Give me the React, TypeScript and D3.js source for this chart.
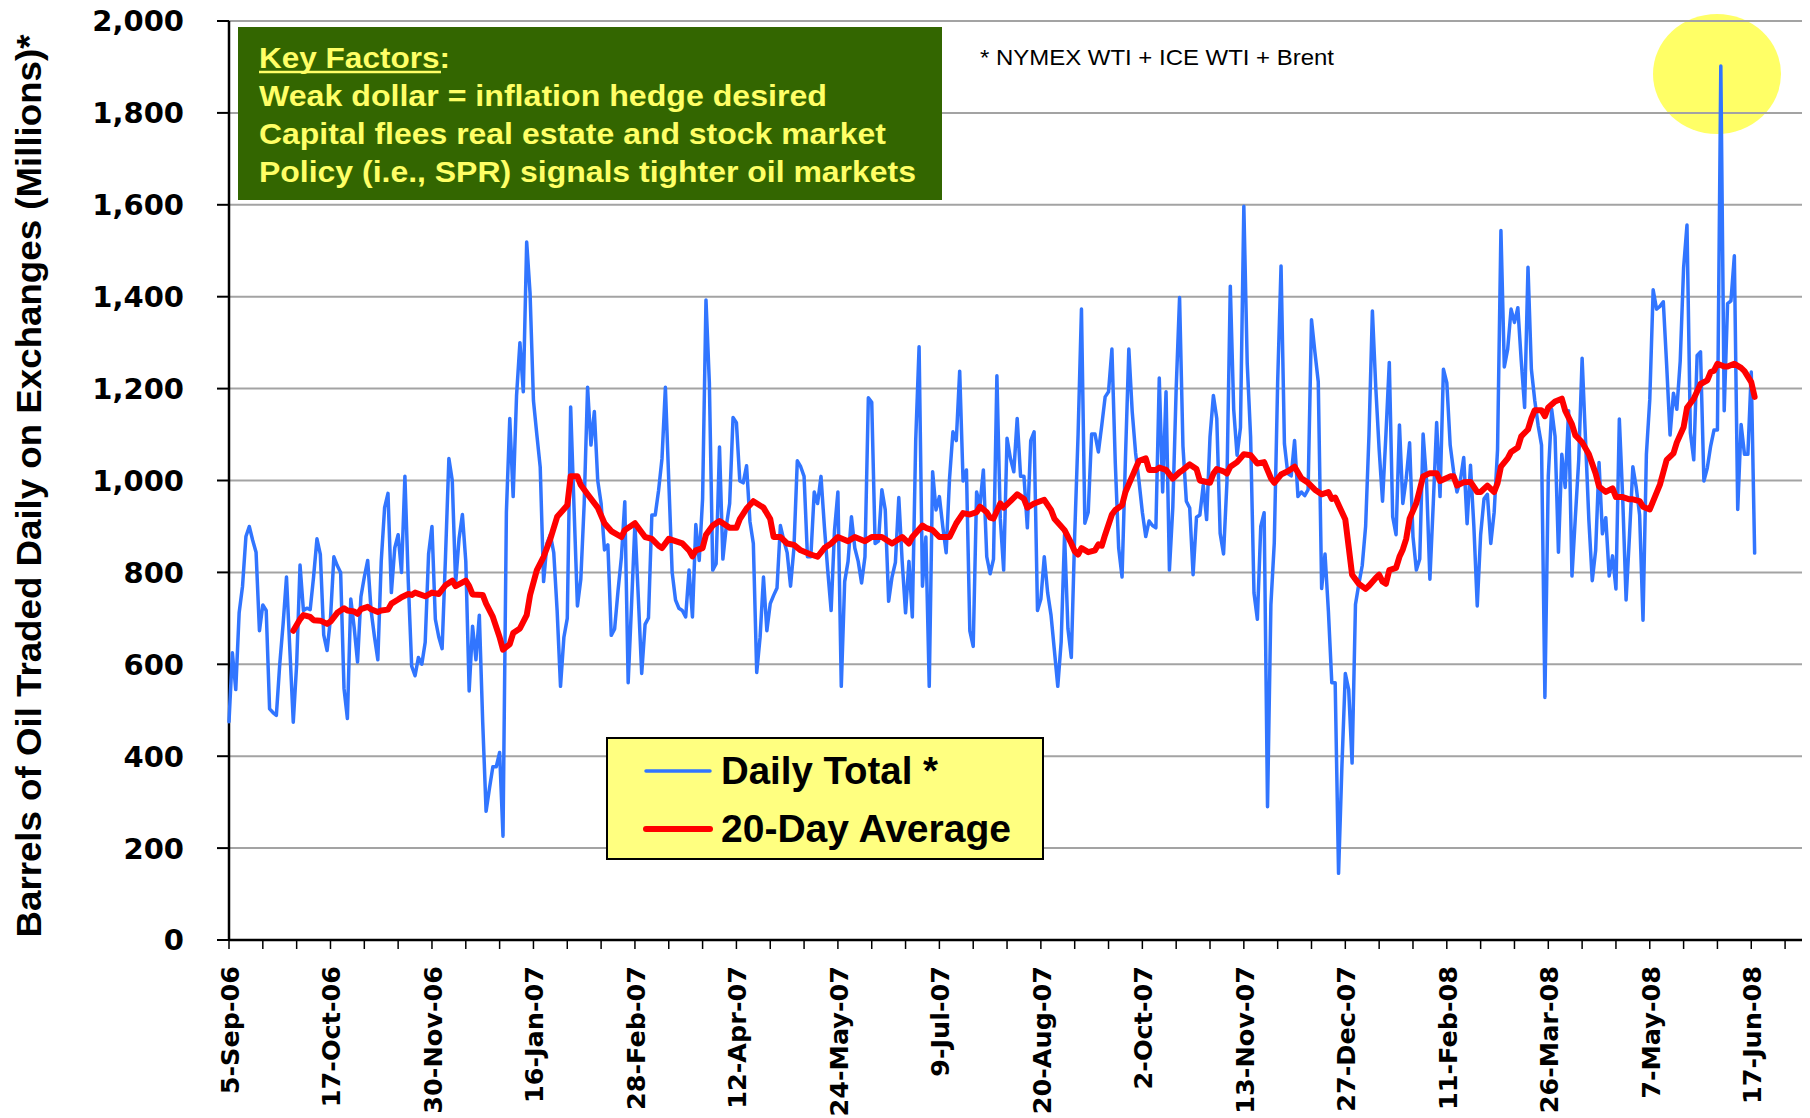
import React from 'react';
import * as d3 from 'd3';

// Daily total, one value per trading day starting 5-Sep-06 (millions of barrels)
const dailyTotal: number[] = [
  475, 625, 545, 712, 770, 878, 900, 870, 844, 673,
  729, 717, 503, 495, 489, 600, 688, 790, 630, 474,
  600, 816, 717, 722, 719, 790, 873, 839, 664, 630,
  700, 834, 815, 800, 547, 482, 742, 680, 605, 747,
  790, 826, 717, 660, 610, 824, 941, 972, 756, 853,
  882, 800, 1009, 780, 596, 575, 615, 600, 648, 840,
  900, 698, 660, 634, 834, 1048, 1000, 776, 873, 926,
  824, 542, 683, 610, 707, 474, 280, 330, 377, 377,
  408, 226, 931, 1135, 965, 1184, 1300, 1193, 1519, 1407,
  1174, 1100, 1029, 780, 863, 882, 843, 717, 552, 659,
  700, 1160, 940, 727, 785, 950, 1203, 1077, 1150, 1000,
  950, 849, 860, 663, 677, 760, 833, 954, 560, 730,
  906, 746, 580, 687, 701, 925, 925, 979, 1048, 1203,
  1000, 800, 740, 722, 717, 703, 805, 703, 904, 826,
  960, 1393, 1213, 805, 819, 1073, 829, 900, 950, 1137,
  1126, 999, 995, 1032, 911, 863, 582, 659, 790, 673,
  732, 750, 766, 902, 870, 843, 770, 853, 1043, 1030,
  1009, 834, 834, 975, 950, 1009, 900, 804, 717, 892,
  975, 552, 780, 824, 921, 853, 824, 777, 834, 1180,
  1170, 863, 868, 980, 936, 737, 790, 822, 963, 824,
  712, 824, 703, 1087, 1291, 770, 877, 552, 1019, 936,
  965, 900, 843, 1004, 1106, 1087, 1238, 999, 1023, 673,
  639, 975, 946, 1023, 834, 797, 829, 1228, 917, 805,
  1092, 1048, 1019, 1135, 1009, 1009, 897, 1087, 1106, 717,
  742, 834, 756, 707, 630, 552, 649, 882, 678, 615,
  882, 1100, 1373, 907, 931, 1101, 1101, 1062, 1120, 1182,
  1193, 1286, 1038, 853, 790, 1048, 1286, 1150, 1060, 999,
  931, 878, 912, 902, 897, 1223, 975, 1193, 805, 941,
  1200, 1398, 1075, 955, 940, 795, 920, 925, 990, 915,
  1095, 1185, 1135, 885, 840, 995, 1423, 1155, 1055, 1115,
  1597, 1255, 1095, 755, 698, 900, 930, 290, 730, 865,
  1215, 1467, 1080, 1015, 1010, 1087, 965, 975, 967, 980,
  1350, 1280, 1215, 765, 840, 715, 560, 560, 145, 380,
  580, 545, 385, 730, 775, 815, 900, 1100, 1369, 1203,
  1067, 955, 1100, 1257, 921, 882, 1121, 950, 1004, 1082,
  878, 805, 829, 1101, 1000, 785, 950, 1126, 965, 1242,
  1213, 1077, 1020, 975, 1000, 1050, 906, 1033, 900, 727,
  882, 960, 970, 863, 931, 1067, 1544, 1247, 1286, 1373,
  1344, 1376, 1261, 1159, 1464, 1242, 1174, 1120, 1077, 528,
  1009, 1155, 1096, 844, 1057, 985, 1152, 792, 920, 1045,
  1266, 1090, 913, 782, 848, 1039, 884, 919, 792, 836,
  764, 1134, 961, 740, 880, 1030, 985, 925, 696, 1057,
  1176, 1415, 1373, 1379, 1389, 1250, 1099, 1190, 1155, 1260,
  1463, 1556, 1104, 1045, 1272, 1280, 999, 1027, 1075, 1110,
  1110, 1902, 1152, 1385, 1391, 1489, 937, 1122, 1057, 1057,
  1236, 842,
];

// 20-day average: trading-day index and value
const avgDay: number[] = [
  19, 21, 22, 24, 25, 27, 29, 30, 32, 34, 35, 37, 38, 39, 41, 42, 44, 45, 47, 48,
  50, 51, 53, 54, 55, 58, 60, 62, 64, 66, 67, 70, 71, 72, 75, 76, 78, 80, 81, 83,
  84, 86, 88, 89, 91, 93, 95, 97, 100, 101, 103, 104, 106, 109, 111, 113, 116, 117, 120, 123,
  125, 127, 128, 130, 132, 134, 136, 137, 138, 140, 141, 143, 145, 148, 150, 151, 153, 155, 158, 160,
  161, 163, 165, 167, 169, 172, 174, 176, 178, 180, 183, 185, 188, 190, 193, 196, 199, 201, 202, 205,
  206, 208, 210, 213, 215, 217, 219, 221, 222, 224, 225, 226, 228, 229, 231, 233, 235, 236, 238, 241,
  243, 244, 247, 249, 250, 251, 252, 254, 256, 257, 258, 259, 261, 262, 264, 265, 267, 269, 271, 272,
  274, 275, 277, 279, 281, 282, 284, 286, 287, 290, 291, 292, 294, 295, 296, 298, 300, 302, 304, 306,
  308, 309, 311, 313, 315, 317, 319, 321, 323, 325, 326, 327, 330, 331, 332, 334, 336, 337, 339, 340,
  341, 342, 343, 345, 346, 347, 348, 349, 351, 352, 353, 355, 357, 358, 361, 362, 363, 365, 367, 369,
  370, 372, 374, 375, 376, 378, 379, 381, 382, 384, 385, 386, 388, 389, 390, 392, 394, 395, 397, 398,
  400, 402, 404, 405, 407, 409, 410, 412, 414, 415, 417, 418, 420, 421, 423, 424, 425, 427, 428, 430,
  431, 433, 435, 437, 438, 439, 440, 442, 443, 445, 447, 448, 449, 450, 451,
];
const avgValue: number[] = [
  673, 698, 707, 703, 696, 695, 688, 693, 712, 722, 717, 715, 710, 720, 725, 720, 714, 717, 719, 732,
  741, 746, 753, 751, 756, 748, 756, 753, 772, 782, 770, 782, 770, 752, 751, 732, 703, 659, 632, 644,
  668, 678, 707, 751, 805, 834, 873, 921, 946, 1009, 1009, 990, 970, 941, 907, 890, 877, 892, 907, 877,
  873, 858, 853, 873, 868, 863, 848, 835, 848, 853, 882, 902, 912, 897, 897, 916, 939, 955, 941, 916,
  877, 877, 863, 860, 848, 839, 834, 853, 863, 877, 868, 877, 868, 877, 877, 863, 877, 863, 877, 902,
  897, 892, 877, 877, 907, 929, 926, 931, 943, 931, 919, 917, 950, 941, 955, 970, 960, 941, 950, 958,
  936, 917, 892, 863, 846, 839, 853, 844, 848, 861, 858, 882, 926, 936, 946, 975, 1009, 1043, 1048, 1023,
  1023, 1028, 1023, 1004, 1018, 1023, 1035, 1025, 1000, 995, 1015, 1025, 1020, 1015, 1030, 1040, 1057, 1055, 1037, 1040,
  1005, 995, 1013, 1020, 1030, 1005, 995, 980, 970, 975, 960, 963, 915, 855, 795, 775, 764, 771, 788, 795,
  780, 775, 805, 810, 834, 850, 873, 917, 951, 980, 1009, 1016, 1016, 999, 1009, 1009, 989, 996, 997, 975,
  975, 989, 975, 994, 1030, 1048, 1062, 1072, 1096, 1111, 1135, 1153, 1153, 1140, 1159, 1172, 1178, 1152, 1122, 1098,
  1083, 1057, 1015, 987, 975, 983, 964, 964, 959, 959, 955, 943, 937, 955, 991, 1018, 1045, 1059, 1083, 1116,
  1158, 1178, 1210, 1218, 1236, 1239, 1254, 1248, 1248, 1254, 1245, 1238, 1226, 1214, 1182,
];

const dateLabels: string[] = [
  '5-Sep-06', '17-Oct-06', '30-Nov-06', '16-Jan-07', '28-Feb-07', '12-Apr-07',
  '24-May-07', '9-Jul-07', '20-Aug-07', '2-Oct-07', '13-Nov-07', '27-Dec-07',
  '11-Feb-08', '26-Mar-08', '7-May-08', '17-Jun-08',
];
const labelEvery = 30; // trading days between date labels
const tickEvery = 10; // trading days between axis ticks
const axisDays = 465;
const yTicks: number[] = [0, 200, 400, 600, 800, 1000, 1200, 1400, 1600, 1800, 2000];

const keyFactorsTitle = 'Key Factors';
const keyFactors: string[] = [
  'Weak dollar = inflation hedge desired',
  'Capital flees real estate and stock market',
  'Policy (i.e., SPR) signals tighter oil markets',
];
const footnote = '* NYMEX WTI + ICE WTI + Brent';
const yTitle = 'Barrels of Oil Traded Daily on Exchanges (Millions)*';
const legendItems = [
  { label: 'Daily Total *', color: '#3175ff', width: 3.5, textLen: 217 },
  { label: '20-Day Average', color: '#ff0000', width: 6, textLen: 290 },
];

const BLUE = '#3175ff';
const RED = '#ff0000';
const GRID = '#a3a3a3';

export default function App() {
  const W = 1810;
  const H = 1118;
  const x = d3.scaleLinear().domain([0, axisDays]).range([229, 1802]);
  const y = d3.scaleLinear().domain([0, 2000]).range([940, 21]);

  const dailyPath = d3
    .line<number>()
    .x((_, i) => x(i))
    .y((d) => y(d))(dailyTotal) as string;

  const avgPath = d3
    .line<number>()
    .x((_, i) => x(avgDay[i]))
    .y((d) => y(d))(avgValue) as string;

  const minorTicks = d3.range(0, axisDays - 4, tickEvery);
  const tickFont = '"DejaVu Sans", Verdana, sans-serif';
  const arialBold = '"Liberation Sans", Arial, sans-serif';

  return (
    <svg
      width={W}
      height={H}
      viewBox={`0 0 ${W} ${H}`}
      style={{ position: 'absolute', left: 0, top: 0, background: '#fff' }}
    >
      <rect x={0} y={0} width={W} height={H} fill="#fff" />

      {/* highlight ellipse */}
      <ellipse cx={1717} cy={74} rx={64} ry={60} fill="#ffff66" />

      {/* gridlines */}
      {yTicks.map((t) => (
        <line key={'g' + t} x1={x(0)} x2={x(axisDays)} y1={y(t)} y2={y(t)} stroke={GRID} strokeWidth={2} />
      ))}

      {/* y axis */}
      <line x1={x(0)} x2={x(0)} y1={y(2000)} y2={y(0)} stroke="#000" strokeWidth={2.5} />
      {yTicks.map((t) => (
        <g key={'yt' + t}>
          <line x1={x(0) - 12} x2={x(0)} y1={y(t)} y2={y(t)} stroke="#000" strokeWidth={2} />
          <text
            x={184}
            y={y(t)}
            dy="0.36em"
            textAnchor="end"
            fontFamily={tickFont}
            fontWeight="bold"
            fontSize={29}
            fill="#000"
          >
            {d3.format(',')(t)}
          </text>
        </g>
      ))}

      {/* x axis */}
      <line x1={x(0)} x2={x(axisDays)} y1={y(0)} y2={y(0)} stroke="#000" strokeWidth={2.5} />
      {minorTicks.map((d) => (
        <line key={'xt' + d} x1={x(d)} x2={x(d)} y1={y(0)} y2={y(0) + 9} stroke="#000" strokeWidth={1.5} />
      ))}
      {dateLabels.map((lab, i) => (
        <text
          key={lab}
          transform={`translate(${x(i * labelEvery) + 10},966) rotate(-90)`}
          textAnchor="end"
          fontFamily={tickFont}
          fontWeight="bold"
          fontSize={25.5}
          fill="#000"
        >
          {lab}
        </text>
      ))}

      {/* y title */}
      <text
        transform={`translate(41,486) rotate(-90)`}
        textAnchor="middle"
        fontFamily={arialBold}
        fontWeight="bold"
        fontSize={35}
        textLength={903}
        lengthAdjust="spacingAndGlyphs"
        fill="#000"
      >
        {yTitle}
      </text>

      {/* data */}
      <path d={dailyPath} fill="none" stroke={BLUE} strokeWidth={3.5} strokeLinejoin="round" strokeLinecap="round" />
      <path d={avgPath} fill="none" stroke={RED} strokeWidth={6} strokeLinejoin="round" strokeLinecap="round" />

      {/* key factors box */}
      <rect x={238} y={27} width={704} height={173} fill="#336600" />
      <text
        x={259}
        y={68}
        fontFamily={arialBold}
        fontWeight="bold"
        fontSize={30}
        fill="#ffff66"
        textLength={191}
        lengthAdjust="spacingAndGlyphs"
      >
        {keyFactorsTitle + ':'}
      </text>
      <line x1={259} x2={441} y1={72} y2={72} stroke="#ffff66" strokeWidth={2.5} />
      {keyFactors.map((line, i) => (
        <text
          key={line}
          x={259}
          y={106 + i * 38}
          fontFamily={arialBold}
          fontWeight="bold"
          fontSize={30}
          fill="#ffff66"
          textLength={[568, 627, 657][i]}
          lengthAdjust="spacingAndGlyphs"
        >
          {line}
        </text>
      ))}

      {/* footnote */}
      <text
        x={980}
        y={65}
        fontFamily={arialBold}
        fontSize={22}
        fill="#000"
        textLength={354}
        lengthAdjust="spacingAndGlyphs"
      >
        {footnote}
      </text>

      {/* legend */}
      <rect x={607} y={738} width={436} height={121} fill="#ffff80" stroke="#000" strokeWidth={2} />
      {legendItems.map((it, i) => (
        <g key={it.label}>
          <line
            x1={646}
            x2={710}
            y1={771 + i * 58}
            y2={771 + i * 58}
            stroke={it.color}
            strokeWidth={it.width}
            strokeLinecap="round"
          />
          <text
            x={721}
            y={784 + i * 58}
            fontFamily={arialBold}
            fontWeight="bold"
            fontSize={38}
            fill="#000"
            textLength={it.textLen}
            lengthAdjust="spacingAndGlyphs"
          >
            {it.label}
          </text>
        </g>
      ))}
    </svg>
  );
}
